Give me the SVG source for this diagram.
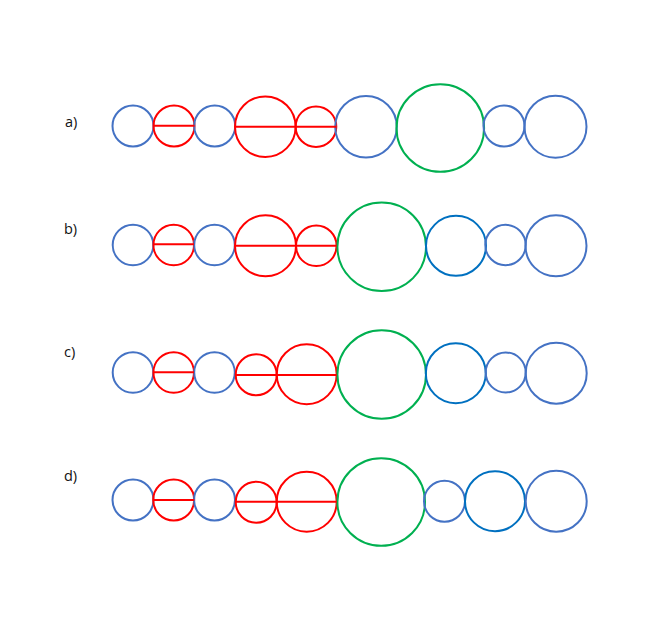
<svg xmlns="http://www.w3.org/2000/svg" width="664" height="621" viewBox="0 0 664 621">
<style>
.c{fill:none;stroke-width:2}
.b{stroke:#4472C4}
.r{stroke:#FF0000}
.g{stroke:#00B050}
.d{stroke:#0070C0}
.l{fill:none;stroke:#FF0000;stroke-width:2}
.t{font-family:"Open Sans","Liberation Sans",Arial,sans-serif;font-size:14.5px;fill:#111}
</style>
<rect width="664" height="621" fill="#fff"/>
<g id="row-a">
<text class="t" x="65" y="127">a)</text>
<g id="a1"><circle class="c b" cx="133" cy="126" r="20.5"/></g>
<g id="a2"><circle class="c r" cx="174" cy="126" r="20.5"/></g>
<g id="a3"><circle class="c b" cx="214.7" cy="126" r="20.5"/></g>
<g id="a4"><circle class="c r" cx="265.3" cy="126.7" r="30.3"/></g>
<g id="a5"><circle class="c r" cx="316" cy="126.7" r="20.3"/></g>
<g id="a6"><circle class="c b" cx="366" cy="126.7" r="30.8"/></g>
<g id="a7"><circle class="c g" cx="440.3" cy="128" r="43.8"/></g>
<g id="a8"><circle class="c b" cx="504" cy="126" r="20.5"/></g>
<g id="a9"><circle class="c b" cx="555.5" cy="126.7" r="31"/></g>
</g>
<g id="row-b">
<text class="t" x="64" y="234">b)</text>
<g id="b1"><circle class="c b" cx="133" cy="245" r="20.3"/></g>
<g id="b2"><circle class="c r" cx="173.7" cy="245" r="20.3"/></g>
<g id="b3"><circle class="c b" cx="214.5" cy="245" r="20.3"/></g>
<g id="b4"><circle class="c r" cx="265.5" cy="245.8" r="30.5"/></g>
<g id="b5"><circle class="c r" cx="316.3" cy="245.8" r="20.3"/></g>
<g id="b6"><circle class="c g" cx="381.7" cy="246.8" r="44.3"/></g>
<g id="b7"><circle class="c d" cx="456" cy="245.8" r="30"/></g>
<g id="b8"><circle class="c b" cx="505.5" cy="245" r="20.2"/></g>
<g id="b9"><circle class="c b" cx="556" cy="245.8" r="30.5"/></g>
</g>
<g id="row-c">
<text class="t" x="64" y="357">c)</text>
<g id="c1"><circle class="c b" cx="133" cy="372.5" r="20.3"/></g>
<g id="c2"><circle class="c r" cx="173.7" cy="372.5" r="20.3"/></g>
<g id="c3"><circle class="c b" cx="214.5" cy="372.5" r="20.3"/></g>
<g id="c4"><circle class="c r" cx="256.2" cy="374.8" r="20.5"/></g>
<g id="c5"><circle class="c r" cx="306.7" cy="374.2" r="30"/></g>
<g id="c6"><circle class="c g" cx="381.7" cy="374.5" r="44.3"/></g>
<g id="c7"><circle class="c d" cx="455.8" cy="373.2" r="30"/></g>
<g id="c8"><circle class="c b" cx="505.7" cy="372.5" r="20"/></g>
<g id="c9"><circle class="c b" cx="556.2" cy="373.2" r="30.5"/></g>
</g>
<g id="row-d">
<text class="t" x="64" y="481">d)</text>
<g id="d1"><circle class="c b" cx="133" cy="500" r="20.5"/></g>
<g id="d2"><circle class="c r" cx="173.7" cy="500" r="20.5"/></g>
<g id="d3"><circle class="c b" cx="214.5" cy="500" r="20.5"/></g>
<g id="d4"><circle class="c r" cx="256.2" cy="502.2" r="20.5"/></g>
<g id="d5"><circle class="c r" cx="306.7" cy="501.7" r="30"/></g>
<g id="d6"><circle class="c g" cx="381.2" cy="502" r="43.8"/></g>
<g id="d7"><circle class="c b" cx="444.5" cy="501.2" r="20.5"/></g>
<g id="d8"><circle class="c d" cx="495" cy="501.2" r="30"/></g>
<g id="d9"><circle class="c b" cx="556.2" cy="501.2" r="30.5"/></g>
</g>
<g id="connectors">
<line class="l" x1="153.5" y1="125.7" x2="194.5" y2="125.7"/>
<line class="l" x1="235" y1="126.7" x2="336" y2="126.7"/>
<line class="l" x1="153.4" y1="244.3" x2="194" y2="244.3"/>
<line class="l" x1="235" y1="245.7" x2="336.6" y2="245.7"/>
<line class="l" x1="153.4" y1="372.3" x2="194" y2="372.3"/>
<line class="l" x1="235.7" y1="375" x2="336.7" y2="375"/>
<line class="l" x1="153.2" y1="500" x2="194.2" y2="500"/>
<line class="l" x1="235.7" y1="501.7" x2="336.7" y2="501.7"/>
</g>
</svg>
